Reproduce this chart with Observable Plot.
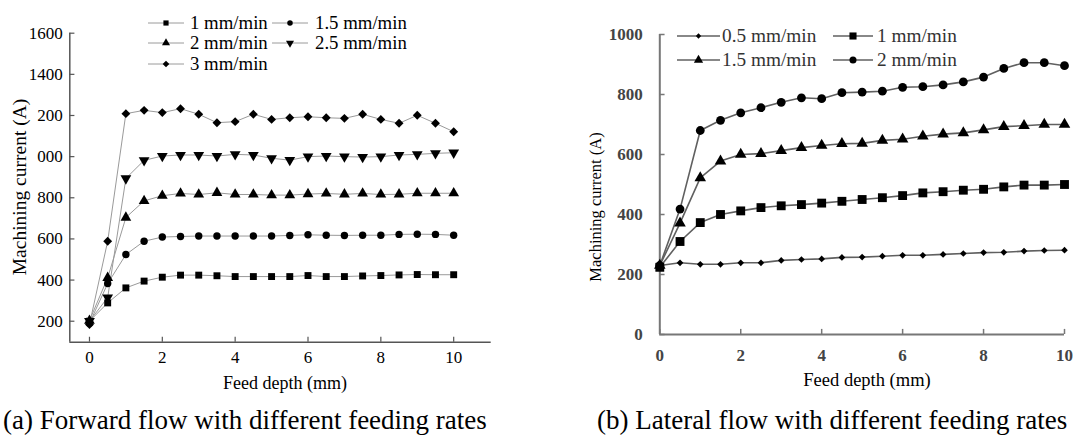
<!DOCTYPE html>
<html><head><meta charset="utf-8">
<script src="https://cdn.jsdelivr.net/npm/d3@7"></script>
<script src="https://cdn.jsdelivr.net/npm/@observablehq/plot@0.6"></script>
<style>
html,body{margin:0;padding:0;background:#fff;overflow:hidden;width:1076px;height:439px}
#root{position:relative;width:1076px;height:439px;font-family:"Liberation Serif","Times New Roman","DejaVu Serif",serif;overflow:hidden}
.abs{position:absolute;white-space:nowrap;line-height:1}
</style></head>
<body><div id="root"></div>
<script>
// ---------- data ----------
const depth = [0,0.5,1,1.5,2,2.5,3,3.5,4,4.5,5,5.5,6,6.5,7,7.5,8,8.5,9,9.5,10];

// (a) forward flow
const fwdNames = ["1 mm/min","1.5 mm/min","2 mm/min","2.5 mm/min","3 mm/min"];
const fwd_1   = [200,289,362,395,414,424,424,421,417,417,417,417,422,417,417,420,422,425,427,426,426];
const fwd_1_5 = [190,383,524,589,609,612,614,614,614,614,614,617,620,618,617,618,618,622,623,622,618];
const fwd_2   = [203,411,704,785,810,821,816,824,816,816,813,813,818,821,817,821,816,817,822,822,822];
const fwd_2_5 = [200,315,894,982,1003,1008,1008,1003,1011,1008,992,983,1000,1003,1000,998,1000,1008,1011,1016,1019];
const fwd_3   = [184,589,1209,1225,1214,1233,1206,1165,1170,1206,1181,1189,1194,1189,1186,1206,1181,1162,1201,1162,1121];
const fwdXTicks = [0,2,4,6,8,10];
const fwdYTicks = [200,400,600,800,1000,1200,1400,1600];
const fwdYLabels = ["200","400","600","800","000","200","1400","1600"];

// (b) lateral flow
const latNames = ["0.5 mm/min","1 mm/min","1.5 mm/min","2 mm/min"];
const lat_0_5 = [230,239,234,234,239,239,247,250,252,257,258,261,264,264,267,270,273,274,278,280,281];
const lat_1   = [224,310,373,400,412,423,429,433,438,444,450,456,463,472,476,481,484,492,498,498,500];
const lat_1_5 = [230,371,522,578,600,603,613,623,630,636,637,647,651,661,668,672,682,693,696,700,700];
const lat_2   = [230,418,680,714,739,756,774,789,786,806,808,811,824,826,832,842,858,887,906,906,896];
const latXTicks = [0,2,4,6,8,10];
const latYTicks = [0,200,400,600,800,1000];
const latYLabels = ["0","200","400","600","800","1000"];

const captionA = "(a) Forward flow with different feeding rates";
const captionB = "(b) Lateral flow with different feeding rates";
const xTitle = "Feed depth (mm)";
const yTitle = "Machining current (A)";

// ---------- helpers ----------
const triangleDown = {
  draw(context, size) {
    const sqrt3 = Math.sqrt(3);
    const y = -Math.sqrt(size / (sqrt3 * 3));
    context.moveTo(0, -y * 2);
    context.lineTo(-sqrt3 * y, y);
    context.lineTo(sqrt3 * y, y);
    context.closePath();
  }
};
const symMap = {square: d3.symbolSquare, circle: d3.symbolCircle, triangle: d3.symbolTriangle, diamond2: d3.symbolDiamond2, triangleDown};
const root = document.getElementById("root");

function tidy(names, arrays) {
  const out = [];
  names.forEach((n, i) => arrays[i].forEach((v, j) => out.push({series: n, x: depth[j], y: v})));
  return out;
}

function addText(text, left, top, opts = {}) {
  const d = document.createElement("div");
  d.className = "abs";
  d.textContent = text;
  d.style.left = left + "px";
  d.style.top = top + "px";
  d.style.fontSize = (opts.size || 17) + "px";
  d.style.color = opts.color || "#000";
  if (opts.weight) d.style.fontWeight = opts.weight;
  d.style.transform = opts.transform || "translateY(-50%)";
  root.appendChild(d);
  return d;
}

function legendItem(spec, x1, x2, tx, y, lineColor, lineW, textColor, scale, fontSize) {
  const w = x2 - x1;
  const svg = d3.create("svg").attr("width", w).attr("height", 20)
    .style("position", "absolute").style("left", x1 + "px").style("top", (y - 10) + "px").style("overflow", "visible");
  svg.append("line").attr("x1", 0).attr("x2", w).attr("y1", 10).attr("y2", 10)
    .attr("stroke", lineColor).attr("stroke-width", lineW);
  const r = spec.r * scale;
  svg.append("path").attr("transform", `translate(${w / 2},10)`)
    .attr("d", d3.symbol(symMap[spec.symbol], Math.PI * r * r)()).attr("fill", "#000");
  root.appendChild(svg.node());
  addText(spec.name, tx, y, {size: fontSize, color: textColor});
}

// ---------- panel (a) ----------
const styleA = [
  {name: fwdNames[0], symbol: "square", r: 3.9},
  {name: fwdNames[1], symbol: "circle", r: 3.7},
  {name: fwdNames[2], symbol: "triangle", r: 4.0},
  {name: fwdNames[3], symbol: "triangleDown", r: 4.0},
  {name: fwdNames[4], symbol: "diamond2", r: 4.0}
];
const dataA = tidy(fwdNames, [fwd_1, fwd_1_5, fwd_2, fwd_2_5, fwd_3]);
const xDomA = [-0.54, 11.03], yDomA = [98, 1600];
const HA = 380;
const plotA = Plot.plot({
  width: 540, height: HA,
  marginLeft: 69.3, marginRight: 49.3, marginTop: 32.7, marginBottom: HA - 341.7,
  x: {domain: xDomA}, y: {domain: yDomA},
  style: {fontFamily: "Liberation Serif", fontSize: "17px", color: "#000", background: "transparent", overflow: "visible"},
  marks: [
    Plot.ruleY([yDomA[0]], {stroke: "#555", strokeWidth: 1.5}),
    Plot.ruleX([xDomA[0]], {stroke: "#555", strokeWidth: 1.5}),
    Plot.ruleX(fwdXTicks, {x: d => d, y1: yDomA[0], y2: yDomA[0] + 24, stroke: "#555", strokeWidth: 1.2}),
    Plot.ruleY(fwdYTicks, {y: d => d, x1: xDomA[0], x2: xDomA[0] + 0.14, stroke: "#555", strokeWidth: 1.2}),
    Plot.axisX({ticks: fwdXTicks, tickSize: 0, tickPadding: 9, label: null}),
    Plot.axisY({ticks: fwdYTicks, tickSize: 0, tickPadding: 7, label: null,
      tickFormat: d => fwdYLabels[fwdYTicks.indexOf(d)]}),
    Plot.line(dataA, {x: "x", y: "y", z: "series", stroke: "#9a9a9a", strokeWidth: 1}),
    ...styleA.map(s => Plot.dot(dataA.filter(d => d.series === s.name),
      {x: "x", y: "y", symbol: symMap[s.symbol], r: s.r, fill: "#000", stroke: "none"}))
  ]
});
plotA.style.position = "absolute"; plotA.style.left = "0px"; plotA.style.top = "0px";
root.appendChild(plotA);

// ---------- panel (b) ----------
const styleB = [
  {name: latNames[0], symbol: "diamond2", r: 3.0},
  {name: latNames[1], symbol: "square", r: 5.0},
  {name: latNames[2], symbol: "triangle", r: 4.3},
  {name: latNames[3], symbol: "circle", r: 4.4}
];
const dataB = tidy(latNames, [lat_0_5, lat_1, lat_1_5, lat_2]);
const xDomB = [0, 10], yDomB = [0, 1000];
const HB = 380;
const plotB = Plot.plot({
  width: 536, height: HB,
  marginLeft: 119.3, marginRight: 12, marginTop: 34, marginBottom: HB - 334,
  x: {domain: xDomB}, y: {domain: yDomB},
  style: {fontFamily: "Liberation Serif", fontSize: "17px", color: "#444", background: "transparent", overflow: "visible", fontWeight: "bold"},
  marks: [
    Plot.ruleY([yDomB[0]], {stroke: "#777", strokeWidth: 2}),
    Plot.ruleX([xDomB[0]], {stroke: "#777", strokeWidth: 2}),
    Plot.ruleX(latXTicks, {x: d => d, y1: yDomB[0], y2: yDomB[0] + 17, stroke: "#777", strokeWidth: 1.5}),
    Plot.ruleY(latYTicks, {y: d => d, x1: xDomB[0], x2: xDomB[0] + 0.13, stroke: "#777", strokeWidth: 1.5}),
    Plot.axisX({ticks: latXTicks, tickSize: 0, tickPadding: 14, label: null}),
    Plot.axisY({ticks: latYTicks, tickSize: 0, tickPadding: 17, label: null,
      tickFormat: d => latYLabels[latYTicks.indexOf(d)]}),
    Plot.line(dataB, {x: "x", y: "y", z: "series", stroke: "#606060", strokeWidth: 1.6}),
    ...styleB.map(s => Plot.dot(dataB.filter(d => d.series === s.name),
      {x: "x", y: "y", symbol: symMap[s.symbol], r: s.r, fill: "#000", stroke: "none"}))
  ]
});
plotB.style.position = "absolute"; plotB.style.left = "540px"; plotB.style.top = "0px";
root.appendChild(plotB);

// ---------- titles ----------
addText(xTitle, 285, 383, {size: 18, transform: "translate(-50%,-50%)"});
addText(yTitle, 20, 187, {size: 19.5, transform: "translate(-50%,-50%) rotate(-90deg)"});
addText(xTitle, 867, 380, {size: 18.5, transform: "translate(-50%,-50%)"});
addText(yTitle, 596, 207, {size: 16.5, transform: "translate(-50%,-50%) rotate(-90deg)"});

// ---------- legends ----------
const legA = [[0,148,184,190,22.7],[1,272,308,315,22.7],[2,148,184,190,43.3],[3,272,308,315,43.3],[4,148,184,190,64]];
legA.forEach(([i,x1,x2,tx,y]) => legendItem(styleA[i], x1, x2, tx, y, "#9a9a9a", 1, "#000", 0.75, 18.8));
const legB = [[0,677,720,722,36],[1,833,873,877,36],[2,677,720,722,60],[3,833,873,877,60]];
legB.forEach(([i,x1,x2,tx,y]) => legendItem(styleB[i], x1, x2, tx, y, "#606060", 1.6, "#333", 0.8, 19.3));

// ---------- captions ----------
addText(captionA, 3, 407, {size: 27, transform: "none"});
addText(captionB, 597, 407, {size: 27, transform: "none"});
</script>
</body></html>
